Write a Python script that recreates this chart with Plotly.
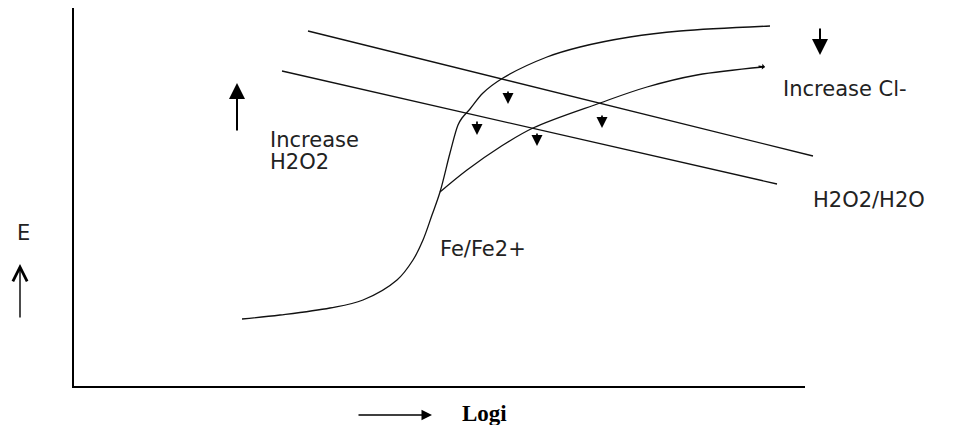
import plotly.graph_objects as go

# Schematic polarization diagram (coordinates: origin at the axis corner,
# x = "log i" units, y = "E" units)
axis_x = [0, 0, 732]
axis_y = [379, 0, 0]

# Fe/Fe2+ anodic curve
fe_x = [169, 207, 257, 290, 324, 340, 350, 359, 367, 377, 385, 389, 397, 410, 430, 474, 507, 557, 607, 697]
fe_y = [68, 72, 79, 87, 107, 127, 147, 172, 195, 234, 262, 269, 278, 294, 309, 330, 340, 350, 356, 361]

# Fe/Fe2+ curve with increased Cl-
fecl_x = [367, 394, 427, 460, 527, 574, 624, 690]
fecl_y = [195, 217, 240, 259, 284, 300, 312, 320]

# H2O2/H2O cathodic lines
h2o2_hi_x = [235, 740]
h2o2_hi_y = [356, 231]
h2o2_lo_x = [209, 704]
h2o2_lo_y = [316, 203]

# small downward arrows at intersections (x, top, bottom)
small_arrow_x = [435, 404, 464, 529]
small_arrow_top = [297, 267, 255, 273]
small_arrow_bot = [283, 252, 241, 259]

lw = 1.3
fig = go.Figure()
fig.add_trace(go.Scatter(x=axis_x, y=axis_y, mode="lines", line=dict(color="black", width=2)))
fig.add_trace(go.Scatter(x=fe_x, y=fe_y, mode="lines", line=dict(color="#111", width=lw, shape="spline", smoothing=1.0)))
fig.add_trace(go.Scatter(x=fecl_x, y=fecl_y, mode="lines", line=dict(color="#111", width=lw, shape="spline", smoothing=1.0)))
fig.add_trace(go.Scatter(x=h2o2_hi_x, y=h2o2_hi_y, mode="lines", line=dict(color="#111", width=lw)))
fig.add_trace(go.Scatter(x=h2o2_lo_x, y=h2o2_lo_y, mode="lines", line=dict(color="#111", width=lw)))

def arrow(x, y, ax, ay, head=2, size=1.0, width=1.5):
    fig.add_annotation(x=x, y=y, ax=ax, ay=ay, xref="x", yref="y", axref="x", ayref="y",
                       text="", showarrow=True, arrowhead=head, arrowsize=size,
                       arrowwidth=width, arrowcolor="black")

for xx, t, b in zip(small_arrow_x, small_arrow_top, small_arrow_bot):
    arrow(xx, b, xx, t, head=2, size=1.3, width=1.7)

# big arrows
arrow(164, 304, 164, 255, head=2, size=1.6, width=2)
arrow(747, 332, 747, 360, head=2, size=1.6, width=2)
arrow(-53, 123, -53, 68, head=5, size=2.0, width=1.4)
arrow(359, -28, 284, -28, head=2, size=1.4, width=1.5)
arrow(692, 320, 684, 321, head=1, size=0.8, width=1.2)

font = dict(family="DejaVu Sans", size=21, color="#222")
def label(x, y, text, f=font, xanchor="left"):
    fig.add_annotation(x=x, y=y, xref="x", yref="y", text=text, showarrow=False,
                       xanchor=xanchor, yanchor="middle", font=f)

label(195, 247, "Increase")
label(195, 225, "H2O2")
label(708, 298, "Increase Cl-")
label(738, 187, "H2O2/H2O")
label(365, 138, "Fe/Fe2+")
label(-50, 154, "E", xanchor="center")
label(387, -26, "Logi", f=dict(family="Liberation Serif", size=23, color="black", weight="bold"))

fig.update_layout(
    width=961, height=425, margin=dict(l=0, r=0, t=0, b=0),
    plot_bgcolor="white", paper_bgcolor="white", showlegend=False,
    xaxis=dict(range=[-73, 888], visible=False),
    yaxis=dict(range=[-38, 387], visible=False),
)
fig.write_html("out.html", config={"displayModeBar": False},
               post_script="document.body.style.margin='0';document.body.style.overflow='hidden';")
